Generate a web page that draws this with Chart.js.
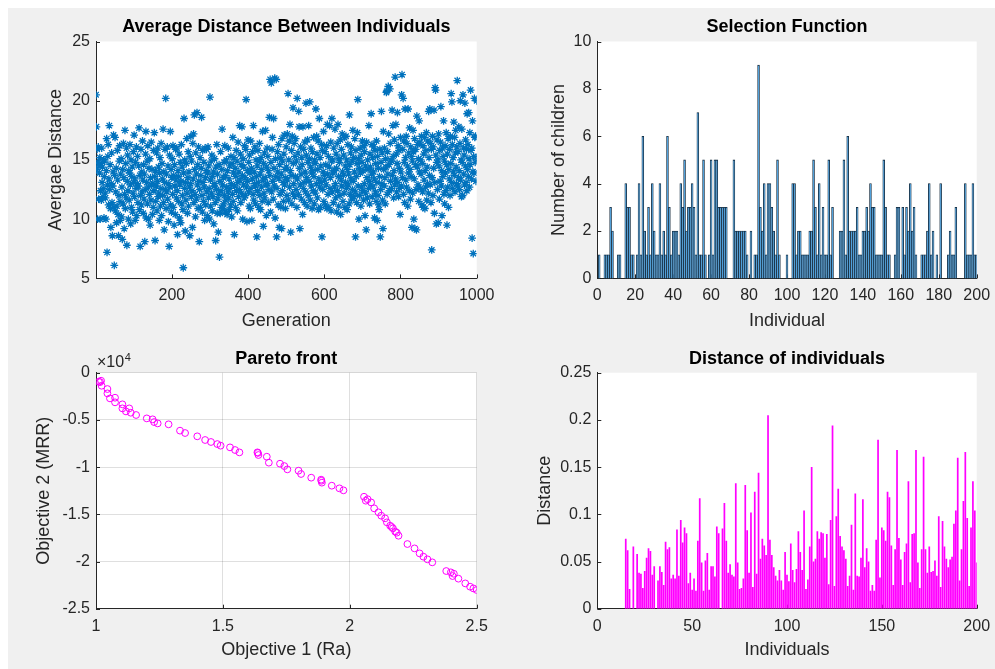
<!DOCTYPE html>
<html><head><meta charset="utf-8">
<script src="https://cdn.jsdelivr.net/npm/chart.js@4.4.1/dist/chart.umd.min.js"></script>
<style>
html,body{margin:0;padding:0;background:#fff;width:995px;height:669px;overflow:hidden;}
#fig{position:absolute;left:8px;top:8px;width:987px;height:661px;background:#f0f0f0;}
canvas{position:absolute;}
</style></head><body>
<div id="fig"></div>
<canvas id="c1" width="497" height="335" style="left:0px;top:0px"></canvas>
<canvas id="c2" width="498" height="335" style="left:497px;top:0px"></canvas>
<canvas id="c3" width="497" height="334" style="left:0px;top:335px"></canvas>
<canvas id="c4" width="498" height="334" style="left:497px;top:335px"></canvas>
<script>
// ---------- DATA ----------
// Average distance between individuals, generations 1..1000
const avgDistance = [
20.5,17.8,14.2,15.9,10.0,14.8,16.1,11.7,14.5,13.9,15.2,10.0,12.4,14.7,11.6,16.0,13.1,14.4,11.9,12.6,15.0,10.1,13.6,14.9,12.2,
11.8,10.0,14.1,16.8,7.2,12.9,15.3,16.3,11.2,13.4,17.9,12.5,14.6,10.9,9.3,13.0,15.6,11.4,8.6,12.8,14.0,17.1,11.0,6.1,13.7,
16.9,10.7,12.3,14.3,9.7,11.1,15.8,13.3,10.4,8.6,12.0,14.9,16.2,11.5,9.9,13.8,15.1,10.2,12.7,8.3,14.2,11.3,16.4,13.5,9.2,
12.1,17.5,10.9,14.7,11.8,16.0,7.8,13.2,15.4,12.4,10.0,14.1,11.6,13.9,16.3,12.9,9.6,15.0,11.0,13.6,14.4,10.6,12.2,15.7,13.1,
17.1,11.9,13.4,9.9,14.8,12.6,16.1,10.3,13.0,15.3,11.4,12.8,14.5,17.7,10.8,13.7,7.7,12.0,15.9,11.2,14.0,12.3,16.6,13.3,10.5,
14.6,11.7,13.8,8.1,12.5,15.5,17.4,10.1,13.1,14.9,11.3,16.2,12.7,10.0,14.3,12.1,15.1,9.5,13.5,11.6,16.5,12.9,14.2,10.4,13.0,
11.0,15.8,12.4,17.3,13.6,8.2,14.1,11.5,12.8,15.6,10.7,13.2,16.0,11.9,14.4,12.2,9.9,13.9,15.2,11.1,12.6,16.4,10.3,14.7,13.4,
12.0,17.6,11.4,14.0,9.1,13.1,15.9,12.5,20.2,10.9,13.8,12.3,16.1,11.7,14.5,9.8,13.0,7.7,15.4,12.7,17.4,11.2,14.2,10.6,13.5,
15.1,12.1,16.2,11.0,13.7,9.5,14.6,12.8,10.4,15.9,13.3,11.8,16.0,12.4,8.7,14.1,11.5,13.6,15.5,10.1,12.9,14.8,9.7,13.2,16.3,
11.3,14.4,12.0,10.8,5.9,13.9,18.5,12.6,15.0,9.0,13.1,11.6,14.7,16.8,12.2,10.5,13.5,15.7,11.1,14.0,12.7,8.6,15.3,13.0,17.0,
11.9,14.9,12.4,9.3,16.4,13.4,17.2,11.4,18.8,14.2,12.1,10.2,15.6,13.8,11.7,19.0,12.9,14.6,10.9,16.1,13.2,8.1,12.5,15.2,11.0,
13.7,14.3,18.6,12.0,10.6,15.8,13.1,11.5,14.8,12.7,9.9,16.0,13.5,11.2,14.1,15.9,12.3,10.3,13.9,16.1,11.8,14.5,12.6,10.0,20.3,
13.3,11.1,14.9,12.2,15.4,10.7,13.6,11.9,14.0,9.6,12.8,15.1,13.0,11.4,8.2,14.4,12.5,16.3,10.5,13.8,11.7,8.9,12.1,14.6,6.8,
13.2,10.5,15.7,12.4,11.0,14.2,17.6,12.9,10.9,13.5,11.3,14.8,12.0,16.2,10.6,13.7,11.6,15.0,12.7,10.4,14.1,12.3,16.0,11.8,13.4,
10.8,14.5,12.6,11.2,15.3,13.0,10.2,14.7,12.1,16.9,11.5,13.9,15.2,8.7,12.8,14.3,11.0,13.6,15.8,12.4,14.9,10.7,13.1,16.5,11.9,
14.0,12.5,17.9,13.3,15.5,11.4,14.6,12.2,17.8,13.7,10.0,15.1,12.9,14.4,11.8,16.2,13.5,12.0,15.9,20.1,12.7,9.8,14.1,13.2,16.7,
12.3,14.8,11.1,15.4,13.9,10.9,16.6,12.6,14.3,9.9,13.4,15.7,12.1,17.9,11.6,14.0,13.0,16.1,12.8,11.3,15.0,13.6,8.5,14.5,12.4,
15.8,13.1,11.0,14.9,16.4,12.0,13.8,10.8,15.2,12.7,14.2,11.5,17.4,13.3,9.4,14.7,12.2,15.6,11.8,13.5,17.5,12.9,10.3,14.4,16.0,
13.0,15.3,11.4,14.1,12.5,18.6,13.7,21.8,10.6,14.8,21.5,12.3,15.9,16.9,13.2,11.7,18.5,14.3,12.8,21.9,10.1,15.1,13.6,21.8,8.5,
12.6,15.7,14.0,11.2,16.3,13.4,9.3,14.6,12.1,15.2,11.0,13.8,9.2,16.8,12.4,14.9,13.1,11.5,15.5,17.1,12.9,14.2,10.9,13.5,16.1,
14.4,12.0,17.2,13.3,20.6,11.6,15.0,16.6,12.7,18.0,14.1,8.9,13.7,15.8,11.3,17.0,12.2,19.4,14.7,13.0,16.4,11.9,15.3,13.6,16.8,
12.5,14.9,11.0,20.2,13.4,15.6,12.1,19.1,17.8,14.3,9.2,12.9,16.1,13.8,11.7,15.2,14.6,10.4,17.8,12.6,15.9,13.1,11.4,16.5,14.0,
12.3,19.8,15.4,13.5,11.1,16.7,14.8,12.0,17.9,13.2,15.1,19.9,11.6,14.4,16.0,12.8,13.9,10.9,15.7,14.1,12.4,16.9,13.6,11.3,15.0,
14.7,12.2,19.3,13.0,17.0,15.5,11.8,14.2,16.6,10.8,13.4,18.5,12.7,15.2,11.0,14.5,13.1,16.3,8.5,15.8,12.5,14.0,17.4,11.5,13.7,
13.3,15.7,11.2,14.6,12.9,16.2,10.9,18.0,13.8,12.1,15.3,11.0,14.4,17.9,12.6,13.5,16.5,10.7,14.9,18.5,12.3,15.0,13.9,11.4,16.0,
14.1,12.7,17.6,13.0,11.8,15.5,14.3,10.6,16.4,12.4,18.0,13.6,11.1,15.1,14.8,12.0,16.7,10.4,13.3,15.9,12.8,17.2,14.0,11.5,13.7,
15.4,12.2,16.9,11.0,14.5,13.1,17.0,12.6,15.0,10.8,14.2,16.3,12.9,13.8,11.3,18.8,14.6,12.1,15.6,13.4,16.1,11.7,14.9,12.5,17.5,
13.2,15.2,11.9,14.0,16.8,12.3,8.5,15.8,13.6,11.4,14.7,17.3,20.1,12.8,15.1,10.0,14.3,12.0,16.0,13.9,11.1,15.4,12.7,14.8,16.6,
12.4,14.1,11.6,16.2,13.0,15.7,10.3,14.5,12.2,9.1,16.5,13.5,11.8,15.0,14.2,12.6,17.9,13.2,11.3,15.5,14.4,12.9,18.9,13.8,16.3,
11.9,15.2,12.7,14.0,16.1,13.4,10.1,15.8,12.3,14.7,11.5,16.6,13.1,9.9,15.3,12.0,14.3,11.2,10.8,13.6,15.9,8.5,12.5,14.8,19.1,
13.0,15.6,11.6,9.2,17.4,14.2,12.8,16.0,13.5,11.3,15.1,14.4,20.7,20.8,12.1,15.7,13.8,21.2,17.2,14.6,12.4,21.0,16.4,13.2,15.0,
12.6,14.9,19.2,13.7,17.9,15.3,11.8,14.1,16.7,12.9,22.0,13.4,18.0,15.5,12.3,14.7,19.0,13.1,16.2,11.9,15.8,14.3,12.6,10.4,16.9,
14.0,12.8,20.5,22.2,13.5,15.9,20.2,12.1,16.6,14.8,11.4,19.3,15.2,13.3,17.0,12.7,16.4,14.5,11.1,19.3,13.9,15.6,12.4,17.7,14.2,
11.7,16.1,13.6,15.3,9.3,14.9,12.2,17.5,15.7,10.0,13.4,16.8,9.2,14.6,15.9,12.5,9.1,18.7,14.4,16.3,12.9,15.1,11.5,18.3,14.0,
16.5,12.6,15.0,13.8,17.0,11.2,14.7,12.3,16.2,11.0,15.5,13.3,16.9,10.9,14.1,12.7,15.8,17.3,11.6,14.4,13.0,16.6,12.2,19.1,15.2,
13.7,19.3,12.9,16.4,11.4,15.9,7.4,13.5,17.0,12.0,16.1,14.3,19.2,10.5,13.1,21.1,20.9,15.4,9.6,14.8,16.7,12.5,15.0,9.7,17.2,
14.5,11.7,15.8,13.2,16.5,19.5,12.8,14.1,10.3,16.0,13.6,15.3,18.3,12.1,14.9,11.3,16.2,13.9,12.4,17.3,14.6,9.5,15.5,12.7,16.8,
11.0,14.2,13.4,15.9,12.0,17.0,14.7,20.6,13.1,19.9,16.3,12.6,15.2,14.0,18.2,13.7,16.9,12.3,15.6,17.5,14.4,13.0,16.1,21.7,12.8,
15.7,13.5,17.8,14.1,12.5,16.4,20.0,13.3,15.0,11.9,17.6,14.8,12.0,20.5,16.0,13.8,15.4,12.9,19.8,14.5,16.7,13.1,15.9,12.4,18.9,
14.2,16.3,13.6,19.0,15.1,12.7,17.3,14.6,20.9,15.8,13.4,16.0,8.4,18.3,14.0,7.1,15.3,13.9,20.2,16.9,14.8,17.0,13.2,15.2,20.0
];
const generationTicks = [200, 400, 600, 800, 1000];
const distanceTicks = [5, 10, 15, 20, 25];

// Selection function: number of children per individual 1..200
const children = [
1,0,0,1,1,1,3,2,0,0, 1,1,0,0,4,3,3,1,1,0, 1,4,1,6,2,1,3,1,4,2, 1,1,4,1,2,1,6,3,1,2,
2,2,1,4,3,5,2,3,3,4, 3,1,7,1,1,5,1,0,1,5, 1,5,5,3,3,3,3,3,0,0, 0,5,2,2,2,2,2,2,1,0,
2,0,1,1,9,3,2,4,1,4, 4,3,2,1,5,1,0,0,0,1, 0,0,4,4,1,2,2,1,1,1, 1,2,2,5,3,1,4,1,3,1,
1,5,1,3,0,0,0,2,2,5, 1,6,2,2,2,2,3,1,1,2, 2,3,2,4,3,3,1,1,1,1, 5,3,1,1,0,0,1,3,3,0,
3,1,3,2,4,2,3,1,0,0, 1,1,1,2,4,1,2,0,1,0, 4,0,0,0,1,2,1,1,3,0, 0,0,0,4,1,1,1,4,1,1
];

// Pareto front
const ra = [1.011,1.020,1.022,1.045,1.045,1.055,1.075,1.075,1.104,1.104,1.131,1.137,1.158,1.200,1.223,1.229,1.243,1.286,1.331,1.351,
1.399,1.430,1.453,1.478,1.491,1.528,1.548,1.565,1.636,1.640,1.673,1.681,1.725,1.742,1.754,1.798,1.808,1.848,1.887,1.890,
1.929,1.959,1.975,2.056,2.063,2.084,2.096,2.113,2.124,2.139,2.146,2.159,2.170,2.179,2.192,2.227,2.255,2.275,2.290,2.306,
2.325,2.380,2.398,2.405,2.428,2.455,2.474,2.487,2.500,1.638,1.888,2.165,2.185,2.410,1.016,1.118,2.070];
const mrr = [-950,-850,-1380,-1730,-2190,-2720,-2650,-3140,-3350,-3780,-3780,-4240,-4480,-4840,-4940,-5230,-5370,-5470,-6140,-6390,
-6740,-7130,-7340,-7560,-7730,-7910,-8190,-8440,-8440,-8720,-8900,-9530,-9640,-9890,-10240,-10380,-10730,-11120,-11330,-11650,
-11970,-12250,-12460,-13140,-13560,-13740,-14370,-14790,-15150,-15430,-15850,-16210,-16490,-16840,-17270,-18150,-18610,-19140,-19490,-19770,
-20090,-21010,-21150,-21540,-21820,-22320,-22670,-22850,-23020,-8500,-11450,-16350,-16950,-21300,-1000,-4100,-13400];

// Distance of individuals 1..200
const distance = [
0,0,0,0,0,0,0,0,0,0, 0,0,0,0,0.074,0.062,0.021,0,0.066,0,
0.058,0.038,0.037,0.022,0.040,0.054,0.064,0.061,0.036,0.045, 0,0.030,0.045,0.039,0.025,0.071,0.063,0.065,0.032,0.036,
0.032,0.084,0.035,0.094,0.070,0.086,0.080,0.027,0.038,0.020, 0.032,0.019,0.072,0.117,0.049,0.019,0.051,0.059,0.020,0.045,
0.045,0.034,0.087,0.080,0,0.085,0.112,0.072,0.038,0.047, 0.036,0.034,0.133,0.049,0.021,0.022,0.032,0.131,0.083,0.038,
0.102,0.023,0.124,0.037,0.144,0.053,0.074,0.067,0.057,0.205, 0.073,0.057,0.044,0.035,0.030,0.041,0.030,0.020,0.060,0.036,
0.029,0.069,0.041,0.028,0.042,0.082,0.060,0.041,0.104,0.021, 0.031,0.066,0.150,0.050,0.053,0.082,0.074,0.081,0.080,0.054,
0.079,0.026,0.094,0.194,0.024,0.098,0.127,0.077,0.066,0.062, 0.053,0.024,0.035,0.089,0.020,0.122,0.035,0.034,0.054,0.116,
0.044,0.064,0.050,0.019,0.025,0.019,0.073,0.179,0.033,0.086, 0.083,0.072,0.124,0.118,0.067,0.025,0.063,0.168,0.075,0.052,
0.025,0.060,0.069,0.135,0.028,0.079,0.080,0.168,0.049,0.022, 0.063,0.161,0.063,0.038,0.066,0.039,0.040,0.051,0.035,0.098,
0.023,0.093,0.066,0.053,0.044,0.052,0.055,0.090,0.104,0.160, 0.030,0.063,0.114,0.166,0.096,0.024,0.086,0.135,0.104,0.049
];

// ---------- STYLE / HELPERS ----------
const FONT = "'Liberation Sans', Arial, Helvetica, sans-serif";
Chart.defaults.font.family = FONT;
Chart.defaults.color = '#262626';
const AX = '#262626';

const matlabAxes = {
  id: 'matlabAxes',
  beforeDraw(chart) {
    const {ctx, chartArea: a} = chart;
    ctx.save();
    ctx.fillStyle = '#ffffff';
    ctx.fillRect(a.left, a.top, a.right - a.left, a.bottom - a.top);
    ctx.restore();
  },
  beforeDatasetsDraw(chart) {
    const {ctx, chartArea: a, scales: {x, y}} = chart;
    ctx.save();
    ctx.strokeStyle = AX; ctx.lineWidth = 1;
    ctx.beginPath();
    x.ticks.forEach(t => { const p = Math.round(x.getPixelForValue(t.value)) + 0.5; ctx.moveTo(p, a.bottom); ctx.lineTo(p, a.bottom - 4); });
    y.ticks.forEach(t => { const p = Math.round(y.getPixelForValue(t.value)) + 0.5; ctx.moveTo(a.left, p); ctx.lineTo(a.left + 4, p); });
    ctx.stroke();
    ctx.restore();
  }
};

function zeroPad(s) { s.paddingLeft = 0; s.paddingRight = 0; s.paddingTop = 0; s.paddingBottom = 0; }
const plainNum = v => String(+(+v).toFixed(4));

function xScale(o) {
  return {
    type: 'linear', position: 'bottom', min: o.min, max: o.max, offset: false,
    grid: { display: !!o.grid, color: 'rgba(38,38,38,0.15)', drawTicks: false },
    border: { display: true, color: AX, width: 1 },
    ticks: Object.assign({ font: { size: 16 }, color: AX, padding: 8, maxRotation: 0, autoSkip: false, callback: plainNum }, o.ticks || {}),
    afterBuildTicks: o.tickVals ? (s => { s.ticks = o.tickVals.map(v => ({ value: v })); }) : undefined,
    title: { display: true, text: o.title, font: { size: 18 }, color: AX, padding: { top: 0, bottom: o.tpad } },
    afterFit: s => { s.height = o.size; zeroPad(s); }
  };
}
function yScale(o) {
  return {
    type: 'linear', position: 'left', min: o.min, max: o.max,
    grid: { display: !!o.grid, color: 'rgba(38,38,38,0.15)', drawTicks: false },
    border: { display: true, color: AX, width: 1 },
    ticks: Object.assign({ font: { size: 16 }, color: AX, padding: 6, autoSkip: false, callback: plainNum }, o.ticks || {}),
    afterBuildTicks: o.tickVals ? (s => { s.ticks = o.tickVals.map(v => ({ value: v })); }) : undefined,
    title: { display: true, text: o.title, font: { size: 18 }, color: AX, padding: { top: o.tpad, bottom: 0 } },
    afterFit: s => { s.width = o.size; zeroPad(s); }
  };
}
function titleCfg(text, top, bottom) {
  return { display: true, text, fullSize: false, color: '#000', font: { size: 18, weight: 'bold' }, padding: { top, bottom } };
}
function baseOpts(title, tTop, tBot, padRight, scales) {
  return {
    responsive: false, animation: false, events: [],
    layout: { padding: { left: 0, top: 0, right: padRight, bottom: 0 } },
    plugins: { legend: { display: false }, tooltip: { enabled: false }, title: titleCfg(title, tTop, tBot) },
    scales
  };
}

// ---------- CHART 1: scatter ----------
new Chart(document.getElementById('c1'), {
  type: 'scatter',
  data: { datasets: [{
    data: avgDistance.map((v, i) => ({ x: i + 1, y: v })),
    pointStyle: 'star', pointRadius: 3.9, borderColor: '#0072BD', backgroundColor: '#0072BD', borderWidth: 1.3
  }]},
  options: baseOpts('Average Distance Between Individuals', 16.6, 3.3, 20.3, {
    x: xScale({ min: 1, max: 1000, tickVals: generationTicks, title: 'Generation', size: 56.6, tpad: 3.4 }),
    y: yScale({ min: 5, max: 25, tickVals: distanceTicks, title: 'Avergae Distance', size: 96, tpad: 45.2 })
  }),
  plugins: [matlabAxes]
});

// ---------- CHART 2: selection bars ----------
new Chart(document.getElementById('c2'), {
  type: 'bar',
  data: { datasets: [{
    data: children.map((v, i) => ({ x: i + 1, y: v })),
    backgroundColor: '#4fa3e0', borderColor: '#13283a', borderWidth: 0.8,
    barPercentage: 1, categoryPercentage: 1
  }]},
  options: baseOpts('Selection Function', 16.6, 3.3, 18.3, {
    x: xScale({ min: 0, max: 200, ticks: { stepSize: 20 }, title: 'Individual', size: 56.6, tpad: 3.4 }),
    y: yScale({ min: 0, max: 10, ticks: { stepSize: 2 }, title: 'Number of children', size: 100.3, tpad: 51.7 })
  }),
  plugins: [matlabAxes]
});

// ---------- CHART 3: Pareto front ----------
const exponentLabel = {
  id: 'exponentLabel',
  afterDraw(chart) {
    const {ctx, chartArea: a} = chart;
    ctx.save();
    ctx.fillStyle = AX; ctx.textBaseline = 'alphabetic'; ctx.textAlign = 'left';
    ctx.font = '16px ' + FONT;
    const base = '\u00d710';
    ctx.fillText(base, a.left + 1, a.top - 5.5);
    const w = ctx.measureText(base).width;
    ctx.font = '11px ' + FONT;
    ctx.fillText('4', a.left + 1 + w + 0.5, a.top - 12);
    ctx.restore();
  }
};
new Chart(document.getElementById('c3'), {
  type: 'scatter',
  data: { datasets: [{
    data: ra.map((v, i) => ({ x: v, y: mrr[i] })),
    pointStyle: 'circle', pointRadius: 3.4, borderColor: '#ff00ff', backgroundColor: 'rgba(0,0,0,0)', borderWidth: 1
  }]},
  options: baseOpts('Pareto front', 13.4, 2.7, 20.3, {
    x: xScale({ min: 1, max: 2.5, grid: true, ticks: { stepSize: 0.5 }, title: 'Objective 1 (Ra)', size: 60.3, tpad: 8.2 }),
    y: yScale({ min: -25000, max: 0, grid: true, ticks: { stepSize: 5000, callback: v => String(+(v / 10000).toFixed(2)) }, title: 'Objective 2 (MRR)', size: 96, tpad: 33.2 })
  }),
  plugins: [matlabAxes, exponentLabel]
});

// ---------- CHART 4: distance bars ----------
new Chart(document.getElementById('c4'), {
  type: 'bar',
  data: { datasets: [{
    data: distance.map((v, i) => ({ x: i + 1, y: v })),
    backgroundColor: '#ff00ff', borderWidth: 0,
    barPercentage: 0.9, categoryPercentage: 1
  }]},
  options: baseOpts('Distance of individuals', 13.4, 2.7, 18.3, {
    x: xScale({ min: 0, max: 200, ticks: { stepSize: 50 }, title: 'Individuals', size: 60.3, tpad: 8.2 }),
    y: yScale({ min: 0, max: 0.25, ticks: { stepSize: 0.05 }, title: 'Distance', size: 100.3, tpad: 37 })
  }),
  plugins: [matlabAxes]
});
</script>
</body></html>
